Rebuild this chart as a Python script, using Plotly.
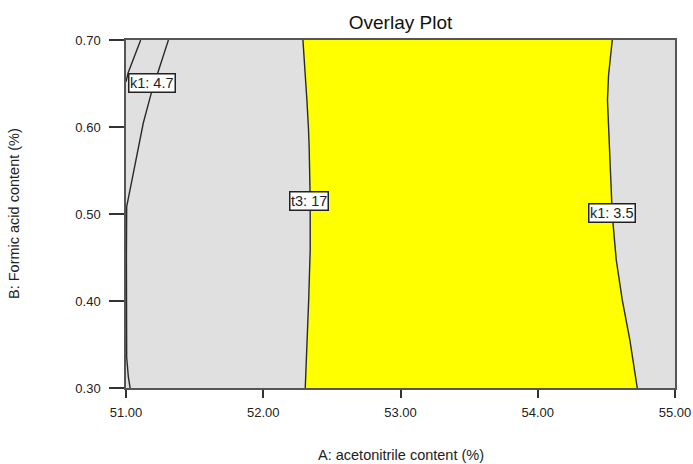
import plotly.graph_objects as go

# Boundary of t3 = 17 (left edge of the overlay region)
t3_y = [0.70, 0.6655, 0.631, 0.5966, 0.5736, 0.516, 0.4586, 0.401, 0.3437, 0.30]
t3_x = [52.289, 52.306, 52.318, 52.330, 52.335, 52.342, 52.342, 52.331, 52.317, 52.306]

# Boundary of k1 = 3.5 (right edge of the overlay region)
k35_y = [0.70, 0.6598, 0.631, 0.5736, 0.4989, 0.4471, 0.401, 0.3552, 0.30]
k35_x = [54.543, 54.516, 54.508, 54.523, 54.543, 54.572, 54.616, 54.671, 54.725]

# k1 = 4.7 contour lines (upper-left)
k47a_x = [51.107, 51.060, 51.015, 51.000]
k47a_y = [0.70, 0.680, 0.662, 0.652]
k47b_x = [51.309, 51.187, 51.126, 51.078, 51.029, 51.005, 51.003, 51.003, 51.005, 51.017, 51.030]
k47b_y = [0.70, 0.6406, 0.6046, 0.5659, 0.5276, 0.5084, 0.45, 0.38, 0.335, 0.313, 0.30]

x_ticks = [51.0, 52.0, 53.0, 54.0, 55.0]
y_ticks = [0.30, 0.40, 0.50, 0.60, 0.70]

labels = [("k1: 4.7", 51.19, 0.6506), ("t3: 17", 52.336, 0.515), ("k1: 3.5", 54.543, 0.501)]

FONT = "Liberation Sans, Arial, sans-serif"
LINE = "#2a2a2a"

fig = go.Figure()
fig.add_trace(go.Scatter(
    x=t3_x + k35_x[::-1], y=t3_y + k35_y[::-1],
    fill="toself", fillcolor="#FFFF00", mode="lines",
    line=dict(width=0), hoverinfo="skip", showlegend=False))
for xs, ys in [(t3_x, t3_y), (k35_x, k35_y), (k47a_x, k47a_y), (k47b_x, k47b_y)]:
    fig.add_trace(go.Scatter(x=xs, y=ys, mode="lines",
                             line=dict(color=LINE, width=1.4),
                             hoverinfo="skip", showlegend=False))

for text, x, y in labels:
    fig.add_annotation(x=x, y=y, text=text, showarrow=False,
                       font=dict(family=FONT, size=14.5, color="#222"),
                       bgcolor="white", bordercolor="#222", borderwidth=1.5, borderpad=0.5)

fig.add_annotation(xref="paper", yref="paper", x=0.5, y=0, yanchor="middle",
                   yshift=-67, text="A: acetonitrile content (%)", showarrow=False,
                   font=dict(family=FONT, size=14.5, color="#222"))
fig.add_annotation(xref="paper", yref="paper", x=0, y=0.5, xanchor="center",
                   xshift=-112, textangle=-90, text="B: Formic acid content (%)",
                   showarrow=False, font=dict(family=FONT, size=14.5, color="#222"))

fig.update_layout(
    width=693, height=464,
    margin=dict(l=126, r=18, t=40, b=76),
    paper_bgcolor="white", plot_bgcolor="#E0E0E0",
    title=dict(text="Overlay Plot", xref="paper", x=0.5, xanchor="center",
               yref="container", y=1 - 22 / 464, yanchor="middle",
               font=dict(family=FONT, size=19, color="#111")),
    font=dict(family=FONT, size=13, color="#222"),
    xaxis=dict(range=[51, 55], tickvals=x_ticks, tickformat=".2f", automargin=False,
               showgrid=False, zeroline=False, showline=True, linecolor="#555",
               linewidth=1.5, mirror=True, ticks="outside", ticklen=8,
               tickcolor="#333", tickwidth=1.5, ticklabelstandoff=4),
    yaxis=dict(range=[0.30, 0.70], tickvals=y_ticks, tickformat=".2f", automargin=False,
               showgrid=False, zeroline=False, showline=True, linecolor="#555",
               linewidth=1.5, mirror=True, ticks="outside", ticklen=15,
               tickcolor="#333", tickwidth=1.5, ticklabelstandoff=6),
)

fig.write_html(
    "out.html",
    config={"displayModeBar": False},
    post_script="document.body.style.margin='0';document.body.style.overflow='hidden';",
)
